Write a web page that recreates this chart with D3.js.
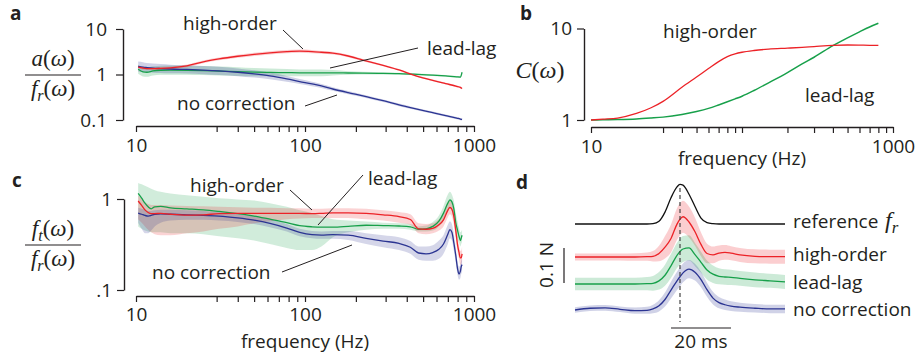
<!DOCTYPE html>
<html><head><meta charset="utf-8">
<script src="https://cdn.jsdelivr.net/npm/d3@7"></script>
<style>
body{margin:0;background:#fff}
svg{display:block}
text{font-family:'Open Sans',sans-serif;fill:#231f20}
.math{font-family:'Liberation Serif',serif}
</style>
</head><body>
<svg id="chart" width="915" height="355"></svg>
<script>
// ---------------- DATA ----------------
const seriesNames = ["high-order", "lead-lag", "no correction"];
const colors = {red:"#ec2227", green:"#17a04a", blue:"#2b3492", ref:"#111111"};

// Panel a: a(w)/f_r(w)
const fA = [10.3,11,11.6,12.6,14,16,20,25,31,40,50,62,78,93,110,125,146,180,220,290,360,440,570,680,790,830,850];
const aHigh = [1.45,1.38,1.35,1.34,1.36,1.40,1.55,1.9,2.2,2.52,2.78,3.0,3.18,3.25,3.18,3.08,2.95,2.55,2.08,1.58,1.26,0.97,0.74,0.63,0.55,0.52,0.49];
const aLead = [1.3,1.14,1.12,1.2,1.24,1.25,1.24,1.22,1.19,1.16,1.13,1.11,1.10,1.09,1.09,1.09,1.09,1.08,1.07,1.06,1.04,1.02,0.97,0.93,0.89,0.88,1.12];
const aNone = [1.5,1.45,1.42,1.38,1.35,1.32,1.29,1.25,1.2,1.12,1.03,0.93,0.8,0.7,0.62,0.56,0.48,0.4,0.34,0.265,0.215,0.18,0.145,0.125,0.11,0.105,0.103];
const aHighBand = [0.03,0.03,0.03,0.03,0.03,0.03,0.03,0.03,0.03,0.035,0.035,0.035,0.035,0.035,0.035,0.03,0.03,0.025,0.025,0.02,0.02,0.02,0.02,0.02,0.02,0.02,0.02];
const aLeadBand = [0.1,0.1,0.1,0.1,0.1,0.1,0.1,0.1,0.1,0.095,0.09,0.085,0.08,0.075,0.075,0.075,0.06,0.04,0.03,0.025,0.02,0.02,0.02,0.02,0.02,0.02,0.02];
const aNoneBand = [0.11,0.11,0.1,0.1,0.1,0.095,0.09,0.09,0.09,0.085,0.08,0.075,0.065,0.055,0.05,0.045,0.04,0.035,0.03,0.03,0.028,0.025,0.025,0.025,0.025,0.025,0.025];

// Panel b: C(w)
const fB = [10,12,15,20,25,30,40,50,60,70,80,90,100,120,150,200,250,300,400,500,600,700,800];
const cHigh = [1.0,1.02,1.05,1.18,1.36,1.6,2.28,2.95,3.65,4.35,4.92,5.28,5.5,5.75,5.95,6.1,6.22,6.35,6.55,6.6,6.58,6.55,6.55];
const cLead = [1.0,1.005,1.01,1.025,1.05,1.075,1.15,1.24,1.34,1.46,1.58,1.7,1.82,2.1,2.55,3.3,4.1,4.85,6.5,7.9,9.2,10.4,11.4];

// Panel c: f_t(w)/f_r(w)
const fC = [10.3,10.8,11.3,11.8,12.3,12.9,14,16,20,25,31,40,50,62,78,93,110,125,146,180,230,290,360,420,470,520,570,620,660,700,720,740,760,780,800,815,830,840,850];
const tHigh = [0.95,0.85,0.76,0.71,0.69,0.69,0.695,0.68,0.665,0.67,0.69,0.695,0.695,0.695,0.695,0.695,0.69,0.695,0.705,0.705,0.695,0.67,0.64,0.595,0.47,0.465,0.475,0.52,0.59,0.75,0.81,0.77,0.64,0.45,0.31,0.26,0.225,0.225,0.25];
const tHighLo = [0.6,0.55,0.5,0.46,0.43,0.41,0.4,0.4,0.42,0.44,0.47,0.5,0.54,0.57,0.6,0.61,0.62,0.62,0.62,0.62,0.6,0.58,0.55,0.52,0.42,0.41,0.42,0.45,0.5,0.63,0.68,0.64,0.52,0.37,0.26,0.22,0.19,0.19,0.21];
const tHighHi = [1.1,1.0,0.92,0.88,0.86,0.86,0.86,0.85,0.84,0.83,0.82,0.81,0.8,0.8,0.79,0.79,0.78,0.78,0.79,0.79,0.78,0.75,0.72,0.68,0.54,0.53,0.54,0.6,0.68,0.88,0.95,0.9,0.76,0.54,0.37,0.31,0.27,0.27,0.3];
const tLead = [1.15,1.02,0.9,0.82,0.78,0.82,0.83,0.8,0.78,0.76,0.73,0.69,0.65,0.6,0.55,0.51,0.495,0.49,0.49,0.5,0.515,0.51,0.505,0.495,0.465,0.47,0.5,0.57,0.7,0.9,0.98,0.93,0.78,0.55,0.45,0.39,0.35,0.37,0.4];
const tLeadLo = [0.5,0.47,0.45,0.44,0.43,0.43,0.43,0.42,0.42,0.41,0.39,0.37,0.35,0.32,0.29,0.275,0.275,0.3,0.38,0.43,0.46,0.47,0.47,0.46,0.44,0.44,0.45,0.5,0.58,0.73,0.78,0.73,0.6,0.44,0.36,0.33,0.3,0.32,0.34];
const tLeadHi = [1.5,1.45,1.4,1.35,1.3,1.25,1.2,1.15,1.1,1.06,1.02,0.99,0.96,0.9,0.82,0.75,0.7,0.65,0.6,0.58,0.565,0.55,0.54,0.53,0.5,0.51,0.56,0.66,0.84,1.12,1.2,1.12,0.95,0.7,0.56,0.48,0.43,0.44,0.46];
const tNone = [0.7,0.68,0.66,0.65,0.66,0.68,0.685,0.68,0.67,0.66,0.65,0.62,0.585,0.54,0.48,0.43,0.405,0.4,0.405,0.4,0.37,0.345,0.325,0.295,0.255,0.25,0.258,0.28,0.32,0.41,0.46,0.43,0.33,0.24,0.17,0.15,0.16,0.18,0.19];
const tNoneLo = [0.55,0.47,0.42,0.42,0.45,0.5,0.55,0.58,0.59,0.59,0.58,0.56,0.53,0.49,0.44,0.39,0.37,0.365,0.365,0.355,0.32,0.295,0.275,0.25,0.215,0.21,0.21,0.22,0.25,0.32,0.37,0.35,0.27,0.2,0.145,0.13,0.135,0.15,0.16];
const tNoneHi = [0.8,0.78,0.76,0.74,0.74,0.75,0.76,0.76,0.75,0.74,0.72,0.68,0.645,0.595,0.53,0.47,0.445,0.44,0.445,0.445,0.42,0.4,0.38,0.345,0.3,0.3,0.31,0.35,0.4,0.52,0.57,0.53,0.41,0.29,0.2,0.18,0.19,0.21,0.225];

// Panel d: force traces (N, relative to each trace's baseline), time in ms
const tD = [0,5,10,15,20,24,26,28,30,32,34,35,36,38,40,42,44,46,48,50,52,55,60,65,70];
const dRef = [0,0,0,0,0,0,0.001,0.008,0.034,0.075,0.106,0.113,0.111,0.085,0.05,0.017,0.004,0.001,0,0,0,0,0,0,0];
const dHigh = [0,0,0,0,0,0.001,0.002,0.01,0.028,0.053,0.094,0.108,0.115,0.1,0.072,0.036,0.01,0.006,0.011,0.013,0.011,0.006,0.002,0.001,0.001];
const dLead = [0,0,0,0,0,0.001,0.002,0.009,0.025,0.052,0.082,0.093,0.1,0.103,0.084,0.062,0.04,0.028,0.022,0.02,0.019,0.016,0.012,0.009,0.006];
const dNone = [0,0.005,0.006,0.002,-0.002,-0.001,0.003,0.012,0.03,0.057,0.083,0.095,0.106,0.117,0.108,0.087,0.058,0.034,0.021,0.015,0.011,0.008,0.005,0.003,0.003];
const dHighSd = [0.01,0.01,0.01,0.01,0.011,0.012,0.015,0.022,0.032,0.04,0.045,0.046,0.046,0.044,0.04,0.034,0.028,0.024,0.022,0.021,0.02,0.02,0.02,0.02,0.02];
const dLeadSd = [0.018,0.018,0.018,0.018,0.018,0.019,0.021,0.025,0.03,0.034,0.036,0.037,0.037,0.036,0.033,0.03,0.027,0.025,0.023,0.022,0.022,0.021,0.021,0.02,0.02];
const dNoneSd = [0.008,0.008,0.008,0.008,0.009,0.01,0.012,0.016,0.02,0.024,0.026,0.027,0.027,0.026,0.024,0.022,0.02,0.018,0.016,0.015,0.014,0.013,0.012,0.012,0.012];

const freqMajor = [10,100,1000];
const freqMinor = [30,40,50,60,70,80,90,200,300,400,500,600,700,800,900];
const freqLabelsAC = [10,100,1000];
const freqLabelsB = [10,1000];

// ---------------- DRAW ----------------
const svg = d3.select("#chart");
svg.append("rect").attr("width",915).attr("height",355).attr("fill","#fff");
const INK = "#231f20";

function zip(xs, ys){ return xs.map((x,i)=>[x, ys[i]]); }

function xAxis(g, x, y0, labels, pad){
  const ax = d3.axisBottom(x).tickValues(freqMajor.concat(freqMinor))
    .tickFormat(d => labels.includes(d) ? d3.format("d")(d) : "")
    .tickSize(6).tickSizeOuter(0).tickPadding(pad||7);
  const a = g.append("g").attr("transform",`translate(0,${y0})`).call(ax);
  styleAxis(a);
  return a;
}
function yAxis(g, y, x0, vals, fmt, pad){
  const ax = d3.axisLeft(y).tickValues(vals).tickFormat(fmt).tickSize(7).tickSizeOuter(0).tickPadding(pad);
  const a = g.append("g").attr("transform",`translate(${x0},0)`).call(ax);
  styleAxis(a);
  return a;
}
function styleAxis(a){
  a.selectAll("path.domain").attr("stroke",INK).attr("stroke-width",1.4);
  a.selectAll("line").attr("stroke",INK).attr("stroke-width",1.2);
  a.selectAll("text").attr("font-size",19).attr("font-family","'Open Sans',sans-serif").attr("fill",INK);
}
function text(x,y,s,opts={}){
  const t = svg.append("text").attr("x",x).attr("y",y).attr("font-size",opts.size||19).text(s);
  if(opts.anchor) t.attr("text-anchor",opts.anchor);
  if(opts.weight) t.attr("font-weight",opts.weight);
  return t;
}
function leader(x1,y1,x2,y2){
  svg.append("line").attr("x1",x1).attr("y1",y1).attr("x2",x2).attr("y2",y2)
    .attr("stroke",INK).attr("stroke-width",1);
}
function math(x,y,parts,size,anchor){
  const t = svg.append("text").attr("class","math").attr("x",x).attr("y",y)
    .attr("font-size",size).attr("text-anchor",anchor||"middle");
  parts.forEach(p=>{
    const s = t.append("tspan").text(p[0]).attr("font-style",p[1]?"italic":"normal");
    if(p[2]==="sub") s.attr("font-size",size*0.7).attr("dy",size*0.22);
    if(p[2]==="up") s.attr("dy",-size*0.22);
  });
  return t;
}
function fraction(cx, barY, num, den, w){
  math(cx, barY-9, num, 23);
  svg.append("line").attr("x1",cx-w/2).attr("x2",cx+w/2).attr("y1",barY).attr("y2",barY)
    .attr("stroke",INK).attr("stroke-width",1.2);
  math(cx, barY+21, den, 23);
}
const fr = [["f",true],["r",true,"sub"],["(",false,"up"],["ω",true],[")",false]];

function drawLine(g, x, y, xs, ys, color, w){
  g.append("path").datum(zip(xs,ys)).attr("fill","none").attr("stroke",color).attr("stroke-width",w||1.3)
    .attr("stroke-linejoin","round")
    .attr("d", d3.line().x(d=>x(d[0])).y(d=>y(d[1])).curve(d3.curveMonotoneX));
}
function drawBand(g, x, y, xs, lo, hi, color, op){
  g.append("path").datum(xs.map((f,i)=>[f,lo[i],hi[i]])).attr("fill",color).attr("fill-opacity",op).attr("stroke","none")
    .attr("d", d3.area().x(d=>x(d[0])).y0(d=>y(d[1])).y1(d=>y(d[2])).curve(d3.curveMonotoneX));
}
function bandLog(vals, w, sign){ return vals.map((v,i)=>v*Math.pow(10, sign*w[i])); }

// ===== Panel a =====
const xA = d3.scaleLog().domain([10,1000]).range([136,474]);
const yA = d3.scaleLog().domain([0.1,10]).range([120,29]);
const gA = svg.append("g");
drawBand(gA,xA,yA,fA,bandLog(aLead,aLeadBand,-1),bandLog(aLead,aLeadBand,1),colors.green,0.22);
drawBand(gA,xA,yA,fA,bandLog(aNone,aNoneBand,-1),bandLog(aNone,aNoneBand,1),colors.blue,0.22);
drawBand(gA,xA,yA,fA,bandLog(aHigh,aHighBand,-1),bandLog(aHigh,aHighBand,1),colors.red,0.22);
drawLine(gA,xA,yA,fA,aLead,colors.green);
drawLine(gA,xA,yA,fA,aNone,colors.blue);
drawLine(gA,xA,yA,fA,aHigh,colors.red);
xAxis(gA,xA,126,freqLabelsAC);
yAxis(gA,yA,123,[0.1,1,10],d=>d===0.1?"0.1":d3.format("d")(d),9);
fraction(53,75,[["a",true],["(",false],["ω",true],[")",false]],fr,56);
text(10,20,"a",{weight:"bold"});
text(183,30,seriesNames[0]);
leader(283,30,303,49);
text(427,55,seriesNames[1]);
leader(418,48,330,68);
text(177,110,seriesNames[2]);
leader(305,106,337,95);

// ===== Panel b =====
const xB = d3.scaleLog().domain([10,1000]).range([591,893]);
const yB = d3.scaleLog().domain([1,10]).range([120,28.5]);
const gB = svg.append("g");
drawLine(gB,xB,yB,fB,cLead,colors.green,1.5);
drawLine(gB,xB,yB,fB,cHigh,colors.red,1.3);
xAxis(gB,xB,127,freqLabelsB);
yAxis(gB,yB,584,[1,10],d3.format("d"),5);
math(540,78,[["C",true],["(",false],["ω",true],[")",false]],24);
text(520,20,"b",{weight:"bold"});
text(663,38,seriesNames[0]);
text(805,102,seriesNames[1]);
text(742,165,"frequency (Hz)",{anchor:"middle"});

// ===== Panel c =====
const xC = d3.scaleLog().domain([10,1000]).range([136,474]);
const yC = d3.scaleLog().domain([0.1,1]).range([290,199]);
const gC = svg.append("g");
drawBand(gC,xC,yC,fC,tLeadLo,tLeadHi,colors.green,0.2);
drawBand(gC,xC,yC,fC,tHighLo,tHighHi,colors.red,0.2);
drawBand(gC,xC,yC,fC,tNoneLo,tNoneHi,colors.blue,0.2);
drawLine(gC,xC,yC,fC,tLead,colors.green);
drawLine(gC,xC,yC,fC,tNone,colors.blue);
drawLine(gC,xC,yC,fC,tHigh,colors.red);
xAxis(gC,xC,296,freqLabelsAC,6);
yAxis(gC,yC,124,[0.1,1],d=>d===0.1?".1":"1",5);
fraction(53,245,[["f",true],["t",true,"sub"],["(",false,"up"],["ω",true],[")",false]],fr,56);
text(12,187,"c",{weight:"bold"});
text(190,192,seriesNames[0]);
leader(290,190,312,210);
text(368,185,seriesNames[1]);
leader(363,175,318,225);
text(152,279,seriesNames[2]);
leader(282,272,352,245);
text(305,348,"frequency (Hz)",{anchor:"middle"});

// ===== Panel d =====
const xD = d3.scaleLinear().domain([0,70]).range([575,785]);
const rowBase = [224,257,284,310];
const rowY = rowBase.map(b => d3.scaleLinear().domain([0,0.1]).range([b,b-35]));
const gD = svg.append("g");
const traces = [
  {v:dHigh, sd:dHighSd, c:colors.red, row:1},
  {v:dLead, sd:dLeadSd, c:colors.green, row:2},
  {v:dNone, sd:dNoneSd, c:colors.blue, row:3}
];
traces.forEach(tr=>{
  drawBand(gD,xD,rowY[tr.row],tD,tr.v.map((v,i)=>v-tr.sd[i]),tr.v.map((v,i)=>v+tr.sd[i]),tr.c,0.22);
});
drawLine(gD,xD,rowY[0],tD,dRef,colors.ref,1.3);
traces.forEach(tr=>drawLine(gD,xD,rowY[tr.row],tD,tr.v,tr.c,1.3));
const peakT = tD[dRef.indexOf(d3.max(dRef))];
gD.append("line").attr("x1",xD(peakT)).attr("x2",xD(peakT)).attr("y1",188).attr("y2",322)
  .attr("stroke","#444").attr("stroke-width",1.2).attr("stroke-dasharray","4,3");
gD.append("line").attr("x1",xD(32)).attr("x2",xD(52)).attr("y1",328).attr("y2",328).attr("stroke",INK).attr("stroke-width",1.2);
text((xD(32)+xD(52))/2,348,"20 ms",{anchor:"middle"});
gD.append("line").attr("x1",564).attr("x2",564).attr("y1",rowY[2](0)-1).attr("y2",rowY[2](0.1)-1).attr("stroke",INK).attr("stroke-width",1.2);
svg.append("text").attr("transform","translate(553,265) rotate(-90)").attr("text-anchor","middle")
  .attr("font-size",19).text("0.1 N");
text(516,189,"d",{weight:"bold"});
text(793,228,"reference");
math(885,228,[["f",true],["r",true,"sub"]],24,"start");
text(793,261,seriesNames[0]);
text(793,289,seriesNames[1]);
text(793,316,seriesNames[2]);
</script>
</body></html>
